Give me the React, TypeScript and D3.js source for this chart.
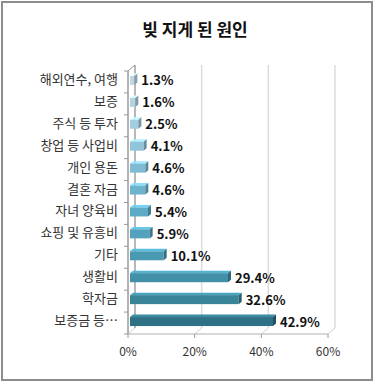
import React from "react";
import * as d3 from "d3";

const categories = [
  "해외연수, 여행",
  "보증",
  "주식 등 투자",
  "창업 등 사업비",
  "개인 용돈",
  "결혼 자금",
  "자녀 양육비",
  "쇼핑 및 유흥비",
  "기타",
  "생활비",
  "학자금",
  "보증금 등…",
];
const values = [1.3, 1.6, 2.5, 4.1, 4.6, 4.6, 5.4, 5.9, 10.1, 29.4, 32.6, 42.9];
const xTicks = [0, 20, 40, 60];
const palette = [
  "#bfd9e4", "#b2d4e2", "#a3cde0", "#90c4da", "#7fbcd4", "#6db3cd",
  "#5caac6", "#52a2bd", "#4a99b2", "#4290a7", "#3a8498", "#2f7184",
];

const W = 375;
const H = 383;
const FONT = "'Noto Sans CJK KR', 'Noto Sans', sans-serif";

export default function App() {
  const x = d3.scaleLinear().domain([0, 60]).range([128, 328]);
  const y = d3.scaleBand<string>().domain(categories).range([71, 334]);
  const DX = 7;
  const DY = -6;
  const bottom = 334;
  const top = 71;
  const bw = y.bandwidth();
  const boundaries = categories.map((c) => y(c)!).concat([bottom]);

  return (
    <div style={{ position: "absolute", left: 0, top: 0, width: W, height: H }}>
      <svg width={W} height={H} style={{ display: "block", fontFamily: FONT }}>
        <rect x={0} y={0} width={W} height={H} fill="#fff" />
        <rect x={2} y={2} width={370} height={378} fill="#fff" stroke="#8c8c8c" strokeWidth={2} />
        <text x={195} y={28} textAnchor="middle" dominantBaseline="central" fontSize={17} fontWeight="bold" fill="#111">
          빚 지게 된 원인
        </text>

        {/* back wall gridlines */}
        {xTicks.map((t) => (
          <line key={"g" + t} x1={x(t) + DX} x2={x(t) + DX} y1={top + DY} y2={bottom + DY}
            stroke={t === 0 ? "#a0a0a0" : "#dcdcdc"} strokeWidth={1.5} />
        ))}
        {/* floor diagonals */}
        {xTicks.map((t) => (
          <line key={"f" + t} x1={x(t)} x2={x(t) + DX} y1={bottom} y2={bottom + DY}
            stroke="#d0d0d0" strokeWidth={1} />
        ))}
        {/* left wall */}
        <line x1={x(0)} x2={x(0)} y1={top} y2={bottom} stroke="#9a9a9a" strokeWidth={1.5} />
        <line x1={x(0)} x2={x(0) + DX} y1={top} y2={top + DY} stroke="#9a9a9a" strokeWidth={1} />
        {boundaries.map((b, i) => (
          <line key={"ct" + i} x1={x(0) - 4} x2={x(0)} y1={b} y2={b} stroke="#9a9a9a" strokeWidth={1} />
        ))}
        {/* x axis */}
        <line x1={x(0)} x2={x(60)} y1={bottom} y2={bottom} stroke="#b0b0b0" strokeWidth={1} />
        {xTicks.map((t) => (
          <g key={"xt" + t}>
            <line x1={x(t)} x2={x(t)} y1={bottom} y2={bottom + 4} stroke="#9a9a9a" strokeWidth={1} />
            <text x={x(t)} y={350} textAnchor="middle" dominantBaseline="central" fontSize={12} fill="#333">
              {t}%
            </text>
          </g>
        ))}

        {/* bars */}
        {categories.map((c, i) => {
          const cy = y(c)! + bw / 2;
          const yT = cy - 6;
          const yB = cy + 3;
          const x0 = x(0) + 2;
          const x1 = x(values[i]) + 2;
          const col = d3.color(palette[i])!;
          const topCol = col.brighter(0.6).formatHex();
          const sideCol = col.darker(0.9).formatHex();
          return (
            <g key={c}>
              <text x={118} y={cy - 3.5} textAnchor="end" dominantBaseline="central" fontSize={13} fill="#333">
                {c}
              </text>
              <polygon points={`${x0},${yT} ${x0 + 3},${yT - 2.5} ${x1 + 3},${yT - 2.5} ${x1},${yT}`} fill={topCol} />
              <rect x={x0} y={yT} width={x1 - x0} height={yB - yT} fill={palette[i]} />
              <polygon points={`${x1},${yT} ${x1 + 3},${yT - 2.5} ${x1 + 3},${yB - 2.5} ${x1},${yB}`} fill={sideCol} />
              <text x={x1 + 7} y={cy - 2} dominantBaseline="central" fontSize={13} fontWeight="bold" fill="#111">
                {values[i].toFixed(1)}%
              </text>
            </g>
          );
        })}
      </svg>
    </div>
  );
}
